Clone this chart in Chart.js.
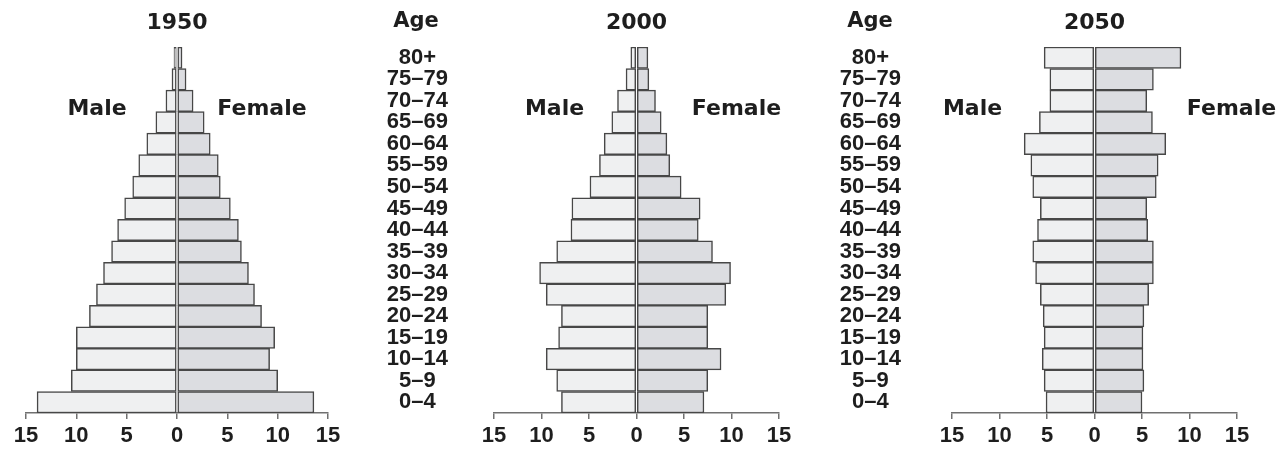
<!DOCTYPE html>
<html>
<head>
<meta charset="utf-8">
<script src="https://cdn.jsdelivr.net/npm/chart.js@4"></script>
<style>
  body { margin: 0; background: #fff; }
  #wrap { position: relative; width: 1284px; height: 453px; }
  canvas { position: absolute; top: 0; }
</style>
</head>
<body>
<div id="wrap">
  <canvas id="pyr1950" width="350" height="453" style="left:0px"></canvas>
  <canvas id="pyr2000" width="440" height="453" style="left:360px"></canvas>
  <canvas id="pyr2050" width="466" height="453" style="left:818px"></canvas>
</div>
<script>
// age groups, top row first
const ageGroups = ['80+', '75–79', '70–74', '65–69', '60–64', '55–59', '50–54', '45–49', '40–44',
    '35–39', '30–34', '25–29', '20–24', '15–19', '10–14', '5–9', '0–4'];

// percent of population
const male1950 = [0.3, 0.5, 1.1, 2.1, 3.0, 3.8, 4.4, 5.2, 5.9, 6.5, 7.3, 8.0, 8.7, 10.0, 10.0, 10.5, 13.9];
const female1950 = [0.5, 0.9, 1.6, 2.7, 3.3, 4.1, 4.3, 5.3, 6.1, 6.4, 7.1, 7.7, 8.4, 9.7, 9.2, 10.0, 13.6];
const male2000 = [0.6, 1.1, 2.0, 2.6, 3.4, 3.9, 4.9, 6.8, 6.9, 8.4, 10.2, 9.5, 7.9, 8.2, 9.5, 8.4, 7.9];
const female2000 = [1.2, 1.3, 2.0, 2.6, 3.2, 3.5, 4.7, 6.7, 6.5, 8.0, 9.9, 9.4, 7.5, 7.5, 8.9, 7.5, 7.1];
const male2050 = [5.3, 4.7, 4.7, 5.8, 7.4, 6.7, 6.5, 5.7, 6.0, 6.5, 6.2, 5.7, 5.4, 5.3, 5.5, 5.3, 5.1];
const female2050 = [9.1, 6.2, 5.5, 6.1, 7.5, 6.7, 6.5, 5.5, 5.6, 6.2, 6.2, 5.7, 5.2, 5.1, 5.1, 5.2, 5.0];

const axisTicks = [-15, -10, -5, 0, 5, 10, 15];

const textColor = '#1e1e1e';
const lineColor = '#474747';

// year, Male / Female and Age headings
const pyramidText = {
    id: 'pyramidText',
    afterDraw(chart, args, opts) {
        const ctx = chart.ctx;
        const zero = chart.scales.x.getPixelForValue(0);
        ctx.save();
        ctx.fillStyle = textColor;
        ctx.textAlign = 'center';
        ctx.textBaseline = 'alphabetic';
        ctx.font = 'bold 22px "DejaVu Sans"';
        ctx.fillText(opts.year, zero, 29);
        ctx.fillText('Male', zero - opts.maleGap, 115);
        ctx.fillText('Female', zero + opts.femaleGap, 115);
        if (opts.ageX != null) {
            ctx.font = 'bold 21px "DejaVu Sans"';
            ctx.fillText('Age', opts.ageX, 27);
        }
        ctx.restore();
    }
};

function makePyramid(id, male, female, opts) {
    const ctx = document.getElementById(id);
    new Chart(ctx, {
        type: 'bar',
        data: {
            labels: ageGroups,
            datasets: [{
                label: 'Male',
                data: male.map(v => -v),
                backgroundColor: '#eff0f1',
                borderColor: lineColor,
                borderWidth: 1.5,
                borderSkipped: false
            }, {
                label: 'Female',
                data: female,
                backgroundColor: '#dcdde1',
                borderColor: lineColor,
                borderWidth: 1.5,
                borderSkipped: false
            }]
        },
        options: {
            indexAxis: 'y',
            responsive: false,
            animation: false,
            categoryPercentage: 1,
            barPercentage: 1,
            layout: {
                padding: { left: opts.padLeft, right: opts.padRight, top: 47, bottom: 0 }
            },
            plugins: {
                legend: { display: false },
                tooltip: { enabled: false },
                pyramidText: { year: opts.year, maleGap: opts.maleGap, femaleGap: opts.femaleGap, ageX: opts.ageX }
            },
            scales: {
                x: {
                    stacked: true,
                    min: -15,
                    max: 15,
                    afterBuildTicks: s => { s.ticks = axisTicks.map(v => ({ value: v })) },
                    ticks: {
                        callback: v => Math.abs(v),
                        font: { family: '"Liberation Sans"', size: 22, weight: 'bold' },
                        color: textColor,
                        padding: 4,
                        maxRotation: 0
                    },
                    grid: { drawOnChartArea: false, tickLength: 6, color: '#707070', lineWidth: 1.5 },
                    border: { color: '#707070', width: 1.5 },
                    afterFit: s => { s.height = 40 }
                },
                y: {
                    stacked: true,
                    display: opts.ageX != null,
                    grid: { display: false, drawTicks: false },
                    border: { display: false },
                    ticks: {
                        crossAlign: 'center',
                        padding: opts.agePad || 45,
                        autoSkip: false,
                        font: { family: '"Liberation Sans"', size: 22, weight: 'bold' },
                        color: textColor
                    },
                    afterFit: s => {
                        s.width = opts.axisWidth || 0;
                        s.paddingTop = 0;
                        s.paddingBottom = 0;
                    }
                }
            }
        },
        plugins: [pyramidText]
    });
}

makePyramid('pyr1950', male1950, female1950, { year: '1950', padLeft: 26, padRight: 22, maleGap: 80, femaleGap: 85 });
makePyramid('pyr2000', male2000, female2000, { year: '2000', padLeft: 0, padRight: 21, axisWidth: 134, ageX: 56, agePad: 46, maleGap: 82, femaleGap: 100 });
makePyramid('pyr2050', male2050, female2050, { year: '2050', padLeft: 0, padRight: 47, axisWidth: 134, ageX: 52, agePad: 51, maleGap: 122, femaleGap: 137 });
</script>
</body>
</html>
